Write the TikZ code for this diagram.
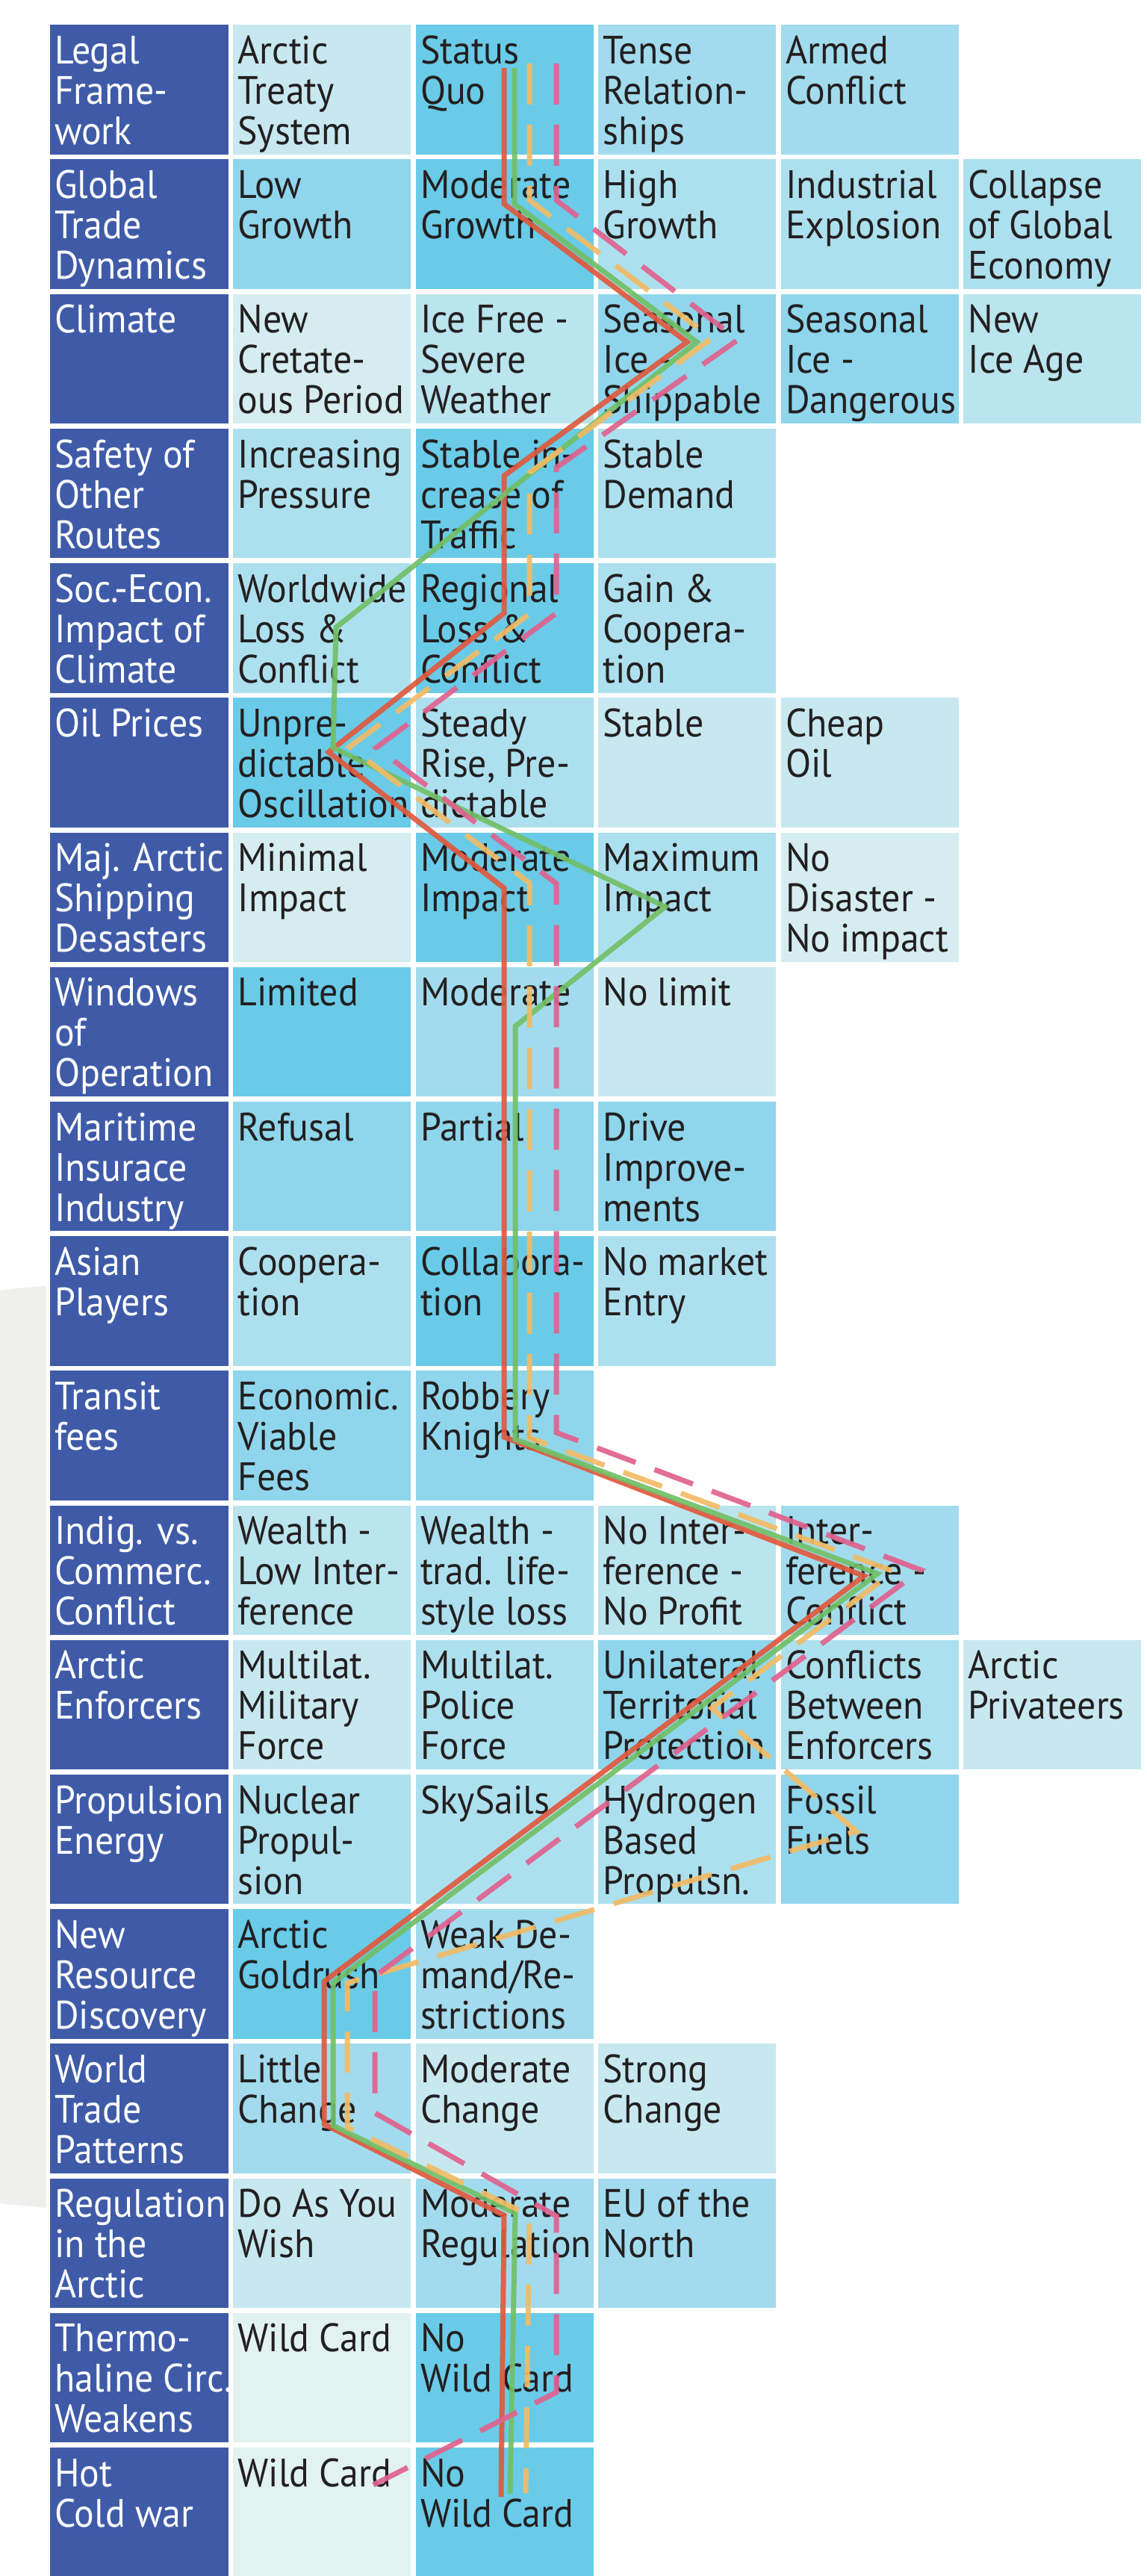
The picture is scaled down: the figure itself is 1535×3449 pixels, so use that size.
\documentclass[tikz,border=0pt]{standalone}
\usepackage{fontspec}
\setmainfont[FakeStretch=0.94]{PT Sans}
\definecolor{hdr}{HTML}{3F5BA8}
\definecolor{c0}{HTML}{69CBE8}
\definecolor{c1}{HTML}{8FD6EC}
\definecolor{c2}{HTML}{A2DBED}
\definecolor{c3}{HTML}{ADE0EE}
\definecolor{c4}{HTML}{BAE4EE}
\definecolor{c5}{HTML}{C8E8F0}
\definecolor{c6}{HTML}{D5EDF0}
\definecolor{c7}{HTML}{E2F2F0}
\definecolor{lnred}{HTML}{E05A3F}
\definecolor{lngreen}{HTML}{72C068}
\definecolor{lnorange}{HTML}{F2BB66}
\definecolor{lnpink}{HTML}{E0628E}
\definecolor{bggray}{HTML}{EFEFED}
\definecolor{ink}{HTML}{231F20}
\tikzset{
  celltext/.style={anchor=north west, inner sep=0pt, align=left, text=ink,
    font=\fontsize{53}{54}\selectfont},
  hdrtext/.style={celltext, text=white},
  route/.style={line width=7pt, line join=miter, opacity=0.92},
  redroute/.style={route, draw=lnred},
  greenroute/.style={route, draw=lngreen},
  orangeroute/.style={route, draw=lnorange, dash pattern=on 55pt off 27pt},
  pinkroute/.style={route, draw=lnpink, dash pattern=on 55pt off 27pt},
}
\newcommand\myhdr[2]{%
  \pgfmathsetmacro\cy{33.3+180.2*(#1-1)}%
  \pgfmathsetmacro\ch{#1==19 ? 3449-\cy : 173.4}%
  \fill[hdr] (67,\cy) rectangle ++(239,\ch);
  \node[hdrtext] (h-#1) at (73,\cy+7) {\rule{0pt}{45pt}#2};
}
\newcommand\mycell[4]{%
  \pgfmathsetmacro\cx{312.3+244.5*(#1-1)}%
  \pgfmathsetmacro\cy{33.3+180.2*(#2-1)}%
  \pgfmathsetmacro\ch{#2==19 ? 3449-\cy : 173.4}%
  \fill[#3] (\cx,\cy) rectangle ++(237.7,\ch);
  \node[celltext] (t-#2-#1) at (\cx+6,\cy+7) {\rule{0pt}{45pt}#4};
}
\begin{document}
\begin{tikzpicture}[x=1pt,y=-1pt]
\useasboundingbox (0,0) rectangle (1535,3449);
\fill[white] (0,0) rectangle (1535,3449);
\fill[bggray] (0,1728) .. controls (20,1725) and (40,1723) .. (62,1722) -- (62,2956)
  .. controls (40,2954) and (20,2952) .. (0,2950) -- cycle;

% row 1
\myhdr{1}{Legal\\Frame-\\work}
\mycell{1}{1}{c5}{Arctic\\Treaty\\System}
\mycell{2}{1}{c0}{Status\\Quo}
\mycell{3}{1}{c2}{Tense\\Relation-\\ships}
\mycell{4}{1}{c2}{Armed\\Conflict}
% row 2
\myhdr{2}{Global\\Trade\\Dynamics}
\mycell{1}{2}{c1}{Low\\Growth}
\mycell{2}{2}{c0}{Moderate\\Growth}
\mycell{3}{2}{c3}{High\\Growth}
\mycell{4}{2}{c3}{Industrial\\Explosion}
\mycell{5}{2}{c3}{Collapse\\of Global\\Economy}
% row 3
\myhdr{3}{Climate}
\mycell{1}{3}{c6}{New\\Cretate-\\ous Period}
\mycell{2}{3}{c4}{Ice Free -\\Severe\\Weather}
\mycell{3}{3}{c1}{Seasonal\\Ice -\\Shippable}
\mycell{4}{3}{c1}{Seasonal\\Ice -\\Dangerous}
\mycell{5}{3}{c4}{New\\Ice Age}
% row 4
\myhdr{4}{Safety of\\Other\\Routes}
\mycell{1}{4}{c3}{Increasing\\Pressure}
\mycell{2}{4}{c0}{Stable in-\\crease of\\Traffic}
\mycell{3}{4}{c3}{Stable\\Demand}
% row 5
\myhdr{5}{Soc.-Econ.\\Impact of\\Climate}
\mycell{1}{5}{c3}{Worldwide\\Loss \&\\Conflict}
\mycell{2}{5}{c0}{Regional\\Loss \&\\Conflict}
\mycell{3}{5}{c3}{Gain \&\\Coopera-\\tion}
% row 6
\myhdr{6}{Oil Prices}
\mycell{1}{6}{c0}{Unpre-\\dictable\\Oscillation}
\mycell{2}{6}{c3}{Steady\\Rise, Pre-\\dictable}
\mycell{3}{6}{c5}{Stable}
\mycell{4}{6}{c5}{Cheap\\Oil}
% row 7
\myhdr{7}{Maj. Arctic\\Shipping\\Desasters}
\mycell{1}{7}{c6}{Minimal\\Impact}
\mycell{2}{7}{c0}{Moderate\\Impact}
\mycell{3}{7}{c3}{Maximum\\Impact}
\mycell{4}{7}{c6}{No\\Disaster -\\No impact}
% row 8
\myhdr{8}{Windows\\of\\Operation}
\mycell{1}{8}{c0}{Limited}
\mycell{2}{8}{c2}{Moderate}
\mycell{3}{8}{c5}{No limit}
% row 9
\myhdr{9}{Maritime\\Insurace\\Industry}
\mycell{1}{9}{c1}{Refusal}
\mycell{2}{9}{c1}{Partial}
\mycell{3}{9}{c1}{Drive\\Improve-\\ments}
% row 10
\myhdr{10}{Asian\\Players}
\mycell{1}{10}{c3}{Coopera-\\tion}
\mycell{2}{10}{c0}{Collabora-\\tion}
\mycell{3}{10}{c3}{No market\\Entry}
% row 11
\myhdr{11}{Transit\\fees}
\mycell{1}{11}{c1}{Economic.\\Viable\\Fees}
\mycell{2}{11}{c1}{Robbery\\Knights}
% row 12
\myhdr{12}{Indig. vs.\\Commerc.\\Conflict}
\mycell{1}{12}{c4}{Wealth -\\Low Inter-\\ference}
\mycell{2}{12}{c3}{Wealth -\\trad. life-\\style loss}
\mycell{3}{12}{c4}{No Inter-\\ference -\\No Profit}
\mycell{4}{12}{c2}{Inter-\\ference -\\Conflict}
% row 13
\myhdr{13}{Arctic\\Enforcers}
\mycell{1}{13}{c5}{Multilat.\\Military\\Force}
\mycell{2}{13}{c3}{Multilat.\\Police\\Force}
\mycell{3}{13}{c1}{Unilateral\\Territorial\\Protection}
\mycell{4}{13}{c3}{Conflicts\\Between\\Enforcers}
\mycell{5}{13}{c5}{Arctic\\Privateers}
% row 14
\myhdr{14}{Propulsion\\Energy}
\mycell{1}{14}{c3}{Nuclear\\Propul-\\sion}
\mycell{2}{14}{c3}{SkySails}
\mycell{3}{14}{c3}{Hydrogen\\Based\\Propulsn.}
\mycell{4}{14}{c1}{Fossil\\Fuels}
% row 15
\myhdr{15}{New\\Resource\\Discovery}
\mycell{1}{15}{c0}{Arctic\\Goldrush}
\mycell{2}{15}{c2}{Weak De-\\mand/Re-\\strictions}
% row 16
\myhdr{16}{World\\Trade\\Patterns}
\mycell{1}{16}{c2}{Little\\Change}
\mycell{2}{16}{c5}{Moderate\\Change}
\mycell{3}{16}{c5}{Strong\\Change}
% row 17
\myhdr{17}{Regulation\\in the\\Arctic}
\mycell{1}{17}{c5}{Do As You\\Wish}
\mycell{2}{17}{c2}{Moderate\\Regulation}
\mycell{3}{17}{c2}{EU of the\\North}
% row 18
\myhdr{18}{Thermo-\\haline Circ.\\Weakens}
\mycell{1}{18}{c7}{Wild Card}
\mycell{2}{18}{c0}{No\\Wild Card}
% row 19
\myhdr{19}{Hot\\Cold war}
\mycell{1}{19}{c7}{Wild Card}
\mycell{2}{19}{c0}{No\\Wild Card}

% route waypoints
\coordinate (R0) at (675,91);   \coordinate (R1) at (675,273);
\coordinate (R2) at (920,458);  \coordinate (R3) at (675,637);
\coordinate (R4) at (675,821);  \coordinate (R5) at (440,1007);
\coordinate (R6) at (675,1189); \coordinate (R7) at (675,1924);
\coordinate (R8) at (1157,2110);\coordinate (R9) at (434,2653);
\coordinate (R10) at (434,2844);\coordinate (R11) at (675,2966);
\coordinate (R12) at (671,3343);

\coordinate (G0) at (689,91);   \coordinate (G1) at (689,273);
\coordinate (G2) at (933,458);  \coordinate (G3) at (450,840);
\coordinate (G4) at (446,1001); \coordinate (G5) at (891,1214);
\coordinate (G6) at (690,1374); \coordinate (G7) at (690,1927);
\coordinate (G8) at (1175,2107);\coordinate (G9) at (446,2655);
\coordinate (G10) at (446,2846);\coordinate (G11) at (690,2963);
\coordinate (G12) at (683,3339);

\coordinate (O0) at (709,85);   \coordinate (O1) at (709,268);
\coordinate (O2) at (953,453);  \coordinate (O3) at (709,633);
\coordinate (O4) at (709,822);  \coordinate (O5) at (468,1000);
\coordinate (O6) at (709,1182); \coordinate (O7) at (709,1925);
\coordinate (O8) at (1197,2104);\coordinate (O9) at (953,2287);
\coordinate (O10) at (1147,2452);\coordinate (O11) at (465,2655);
\coordinate (O12) at (465,2848);\coordinate (O13) at (709,2966);
\coordinate (O14) at (704,3338);

\coordinate (P0) at (745,85);   \coordinate (P1) at (745,268);
\coordinate (P2) at (988,455);  \coordinate (P3) at (745,626);
\coordinate (P4) at (745,821);  \coordinate (P5) at (504,1001);
\coordinate (P6) at (745,1183); \coordinate (P7) at (745,1918);
\coordinate (P8) at (1233,2102);\coordinate (P9) at (502,2646);
\coordinate (P10) at (502,2829);\coordinate (P11) at (745,2967);
\coordinate (P12) at (745,3203);\coordinate (P13) at (500,3327);

\draw[redroute] (R0) -- (R1) -- (R2) -- (R3) -- (R4) -- (R5) -- (R6) -- (R7)
  -- (R8) -- (R9) -- (R10) -- (R11) -- (R12);
\draw[greenroute] (G0) -- (G1) -- (G2) -- (G3) -- (G4) -- (G5) -- (G6) -- (G7)
  -- (G8) -- (G9) -- (G10) -- (G11) -- (G12);
\draw[orangeroute] (O0) -- (O1) -- (O2) -- (O3) -- (O4) -- (O5) -- (O6) -- (O7)
  -- (O8) -- (O9) -- (O10) -- (O11) -- (O12) -- (O13) -- (O14);
\draw[pinkroute] (P0) -- (P1) -- (P2) -- (P3) -- (P4) -- (P5) -- (P6) -- (P7)
  -- (P8) -- (P9) -- (P10) -- (P11) -- (P12) -- (P13);
\end{tikzpicture}
\end{document}
